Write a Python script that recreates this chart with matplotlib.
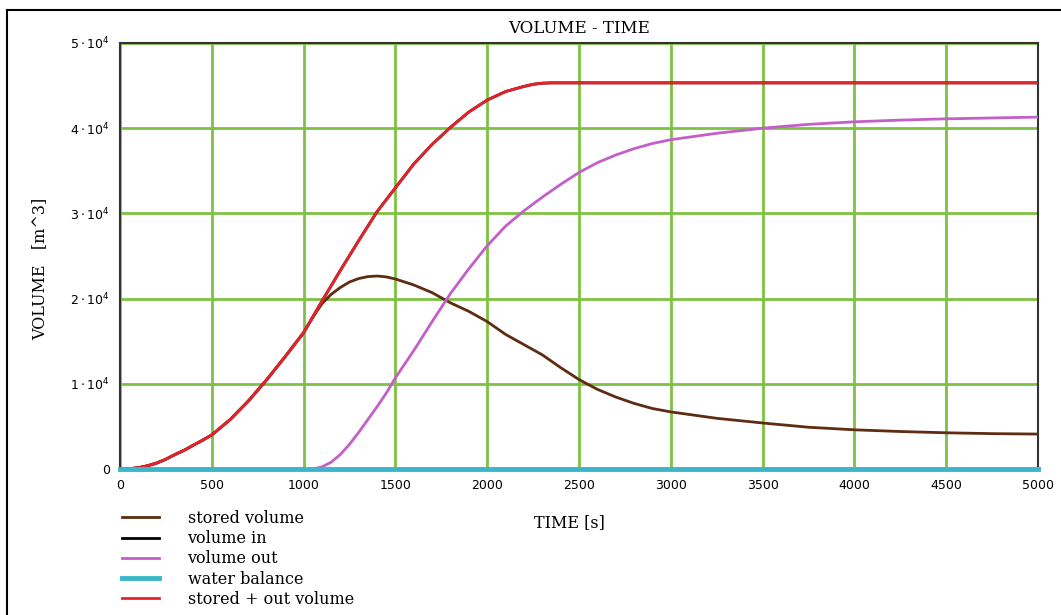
import numpy as np
import matplotlib.pyplot as plt
from matplotlib.lines import Line2D

# time axis [s] and readings of each curve [m^3]
t_in = [0, 50, 100, 150, 200, 250, 300, 350, 400, 450, 500, 600, 700, 800, 900,
        1000, 1100, 1200, 1300, 1400, 1500, 1600, 1700, 1800, 1900, 2000, 2100,
        2200, 2250, 2300, 2350, 2500, 3000, 3500, 4000, 4500, 5000]
stored_out = [0, 30, 150, 380, 700, 1150, 1700, 2200, 2800, 3380, 4000, 5800,
              8000, 10500, 13200, 16000, 19700, 23300, 26800, 30200, 33000,
              35800, 38100, 40100, 41900, 43300, 44300, 44900, 45150, 45280,
              45320, 45320, 45320, 45320, 45320, 45320, 45320]
volume_in = stored_out

t_stored = [0, 50, 100, 150, 200, 250, 300, 350, 400, 450, 500, 600, 700, 800,
            900, 1000, 1050, 1100, 1150, 1200, 1250, 1300, 1350, 1400, 1450,
            1500, 1600, 1700, 1800, 1900, 2000, 2100, 2200, 2300, 2400, 2500,
            2600, 2700, 2800, 2900, 3000, 3250, 3500, 3750, 4000, 4250, 4500,
            4750, 5000]
stored = [0, 30, 150, 380, 700, 1150, 1700, 2200, 2800, 3380, 4000, 5800, 8000,
          10500, 13200, 16000, 17800, 19400, 20500, 21300, 21950, 22350, 22580,
          22650, 22550, 22300, 21600, 20700, 19500, 18500, 17300, 15800, 14600,
          13400, 11900, 10500, 9350, 8450, 7700, 7100, 6700, 5950, 5400, 4900,
          4600, 4400, 4250, 4150, 4100]

t_out = [1052, 1100, 1150, 1200, 1250, 1300, 1350, 1400, 1450, 1500, 1600, 1700,
         1800, 1900, 2000, 2100, 2200, 2300, 2400, 2500, 2600, 2700, 2800, 2900,
         3000, 3250, 3500, 3750, 4000, 4250, 4500, 4750, 5000]
vol_out = [0, 250, 800, 1700, 2900, 4300, 5800, 7300, 8900, 10700, 13900, 17300,
           20600, 23500, 26200, 28500, 30300, 31900, 33400, 34800, 35950, 36850,
           37600, 38200, 38650, 39400, 40000, 40450, 40750, 40950, 41100, 41200,
           41300]

t_bal = [0, 5000]
balance = [0, 0]

x_ticks = [0, 500, 1000, 1500, 2000, 2500, 3000, 3500, 4000, 4500, 5000]
y_ticks = [0, 10000, 20000, 30000, 40000, 50000]
y_labels = ['0', r'$1\cdot10^4$', r'$2\cdot10^4$', r'$3\cdot10^4$',
            r'$4\cdot10^4$', r'$5\cdot10^4$']

fig = plt.figure(figsize=(10.61, 6.15), dpi=100)
ax = fig.add_axes([0.1131, 0.2374, 0.8652, 0.6927])

ax.grid(True, color='#7dc242', linewidth=2)
ax.set_axisbelow(True)

l_stored, = ax.plot(t_stored, stored, color='#5e2c10', linewidth=2, zorder=4)
l_in, = ax.plot(t_in, volume_in, color='black', linewidth=2, zorder=3)
l_out, = ax.plot(t_out, vol_out, color='#c25fc8', linewidth=2, zorder=4)
l_bal, = ax.plot(t_bal, balance, color='#3bb5c9', linewidth=3.5, zorder=6,
                 clip_on=False)
l_so, = ax.plot(t_in, stored_out, color='#e8222b', linewidth=2, zorder=5)

ax.set_xlim(0, 5000)
ax.set_ylim(0, 50000)
ax.set_xticks(x_ticks)
ax.set_yticks(y_ticks)
ax.set_yticklabels(y_labels)
ax.tick_params(length=0, labelsize=9, pad=7)
for s in ax.spines.values():
    s.set_color('#333333')
    s.set_linewidth(1.5)

serif = 'DejaVu Serif'
ax.set_title('VOLUME - TIME', fontsize=12, family=serif, pad=7)
ax.set_ylabel('VOLUME   [m^3]', fontsize=11.5, family=serif)
ax.yaxis.set_label_coords(-0.078, 0.47)
fig.text(0.537, 0.151, 'TIME [s]', fontsize=11.5, family=serif,
         ha='center', va='center')

fig.legend([l_stored, l_in, l_out, l_bal, l_so],
           ['stored volume', 'volume in', 'volume out', 'water balance',
            'stored + out volume'],
           loc='upper left', bbox_to_anchor=(0.109, 0.181), frameon=False,
           prop={'family': serif, 'size': 11.5}, handlelength=2.3,
           handletextpad=1.8, labelspacing=0.2, borderaxespad=0)

# outer frame of the original screenshot
fig.add_artist(Line2D([0.0066, 1.0], [0.984, 0.984], color='black', lw=1.5,
                      transform=fig.transFigure))
fig.add_artist(Line2D([0.0066, 0.0066], [0.0, 0.984], color='black', lw=1.5,
                      transform=fig.transFigure))

plt.savefig('out.png', dpi=100)
